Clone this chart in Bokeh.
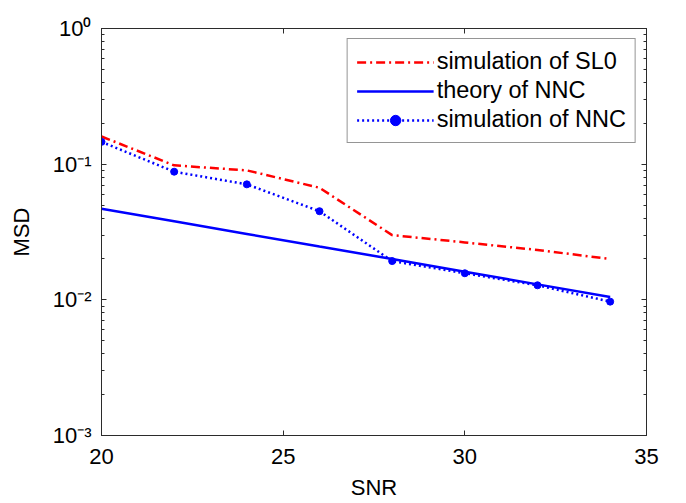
from bokeh.plotting import figure
from bokeh.models import (LogAxis, LinearAxis, Legend, LegendItem,
                          FixedTicker, CustomJSTickFormatter, Range1d)
from bokeh.embed import file_html
from bokeh.resources import INLINE

# ---- data ----
snr = [20, 22, 24, 26, 28, 30, 32, 34]
msd_sl0_sim = [0.160, 0.098, 0.090, 0.067, 0.030, 0.0265, 0.0233, 0.0200]
msd_nnc_theory = [0.047, 0.0380, 0.0306, 0.0247, 0.0200, 0.0161, 0.0130, 0.0105]
msd_nnc_sim = [0.146, 0.088, 0.071, 0.045, 0.0193, 0.0157, 0.0128, 0.0097]

x_ticks = [20, 25, 30, 35]
y_tick_exps = [0, -1, -2, -3]
y_tick_labels = ["10\u2070", "10\u207b\u00b9", "10\u207b\u00b2", "10\u207b\u00b3"]
series_labels = ["simulation of SL0", "theory of NNC", "simulation of NNC"]

FONT = "Liberation Sans"
AX = "#2b2b2b"

y_major = [10.0 ** e for e in y_tick_exps]
y_minor = [m * 10.0 ** e for e in y_tick_exps[1:] for m in range(2, 10)]

p = figure(width=686, height=503, x_axis_type="linear", y_axis_type="log",
           x_range=Range1d(min(x_ticks), max(x_ticks)),
           y_range=Range1d(min(y_major), max(y_major)),
           output_backend="svg", toolbar_location=None,
           min_border_left=101, min_border_right=40,
           min_border_top=28, min_border_bottom=68)
p.background_fill_color = "white"
p.border_fill_color = "white"
p.outline_line_color = AX
p.outline_line_width = 1
p.xgrid.visible = False
p.ygrid.visible = False

blank = CustomJSTickFormatter(code="return ''")
ylab = CustomJSTickFormatter(args=dict(labels=y_tick_labels, exps=y_tick_exps),
                             code="""
const e = Math.round(Math.log10(tick));
const i = exps.indexOf(e);
return i >= 0 ? labels[i] : '';
""")

# bottom axis
xa = p.xaxis[0]
xa.ticker = FixedTicker(ticks=x_ticks)
xa.axis_label = "SNR"
xa.axis_label_text_font = FONT
xa.axis_label_text_font_size = "22px"
xa.axis_label_text_font_style = "normal"
xa.axis_label_text_color = "black"
xa.axis_label_standoff = 8
xa.major_label_text_font = FONT
xa.major_label_text_font_size = "22px"
xa.major_label_text_color = "black"
xa.major_label_standoff = 13
xa.major_tick_in = 5
xa.major_tick_out = 0
xa.minor_tick_line_color = None
xa.axis_line_color = AX
xa.major_tick_line_color = AX

# left axis
ya = p.yaxis[0]
ya.ticker = FixedTicker(ticks=y_major, minor_ticks=y_minor)
ya.formatter = ylab
ya.major_label_text_font = FONT
ya.major_label_text_font_size = "22px"
ya.major_label_text_color = "black"
ya.major_label_standoff = 10
ya.axis_label = "MSD"
ya.axis_label_text_font = FONT
ya.axis_label_text_font_size = "22px"
ya.axis_label_text_font_style = "normal"
ya.axis_label_text_color = "black"
ya.axis_label_standoff = 16
ya.major_tick_in = 5
ya.major_tick_out = 0
ya.minor_tick_in = 3
ya.minor_tick_out = 0
ya.axis_line_color = AX
ya.major_tick_line_color = AX
ya.minor_tick_line_color = AX

# top and right mirror axes
top = LinearAxis(ticker=FixedTicker(ticks=x_ticks), formatter=blank,
                 major_label_text_font_size="1px", major_label_standoff=0,
                 major_tick_in=5, major_tick_out=0,
                 minor_tick_line_color=None,
                 axis_line_color=AX, major_tick_line_color=AX)
p.add_layout(top, "above")
right = LogAxis(ticker=FixedTicker(ticks=y_major, minor_ticks=y_minor),
                formatter=blank, major_label_text_font_size="1px",
                major_label_standoff=0,
                major_tick_in=5, major_tick_out=0,
                minor_tick_in=3, minor_tick_out=0,
                axis_line_color=AX, major_tick_line_color=AX,
                minor_tick_line_color=AX)
p.add_layout(right, "right")

# series
r1 = p.line(snr, msd_sl0_sim, line_color="#ff0000", line_width=2.5,
            line_dash="9 4 2 4")
r2 = p.line(snr, msd_nnc_theory, line_color="#0000ff", line_width=2.5)
r3 = p.line(snr, msd_nnc_sim, line_color="#0000ff", line_width=2.5,
            line_dash="2 3")
r4 = p.scatter(snr, msd_nnc_sim, marker="circle", size=7,
               fill_color="#0000ff", line_color="#0000ff")

legend = Legend(items=[LegendItem(label=series_labels[0], renderers=[r1]),
                       LegendItem(label=series_labels[1], renderers=[r2]),
                       LegendItem(label=series_labels[2], renderers=[r3, r4])],
                location="top_right",
                label_text_font=FONT, label_text_font_size="23.5px",
                label_text_color="black",
                glyph_width=77, glyph_height=26, label_height=26,
                spacing=2, padding=9, margin=10, label_standoff=3,
                border_line_color=AX, border_line_width=1,
                background_fill_color="white", background_fill_alpha=1.0)
p.add_layout(legend)

open("out.html", "w").write(file_html(p, INLINE))
